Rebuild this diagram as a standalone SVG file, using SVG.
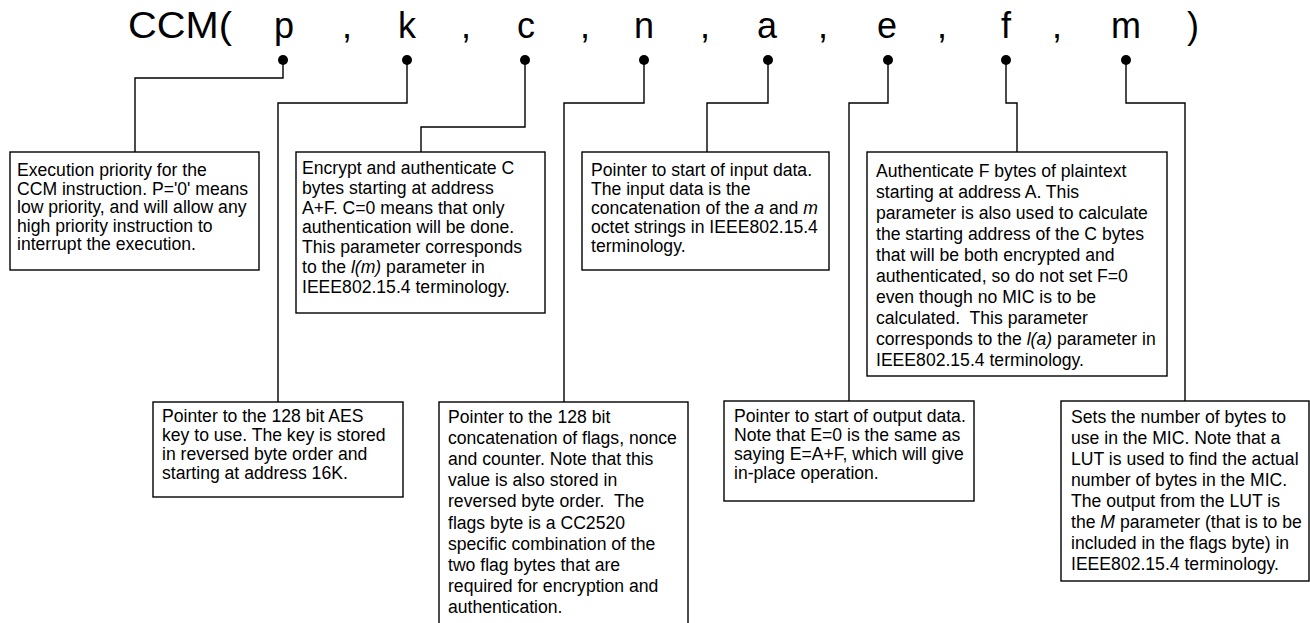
<svg xmlns="http://www.w3.org/2000/svg" width="1310" height="623" viewBox="0 0 1310 623">
<style>
.bg{fill:#ffffff}
.box{fill:#ffffff;stroke:#000000;stroke-width:1.4}
.wire{fill:none;stroke:#000000;stroke-width:1.4}
.dot{fill:#000000}
.t{font-family:"Liberation Sans",Arial,sans-serif;font-size:17.6px;fill:#000000;white-space:pre}
.title{font-family:"Liberation Sans",Arial,sans-serif;font-size:36px;fill:#000000}
.i{font-style:italic}
</style>
<rect class="bg" x="0" y="0" width="1310" height="623"/>
<g id="title">
<text class="title" x="128" y="38" textLength="104" lengthAdjust="spacingAndGlyphs">CCM(</text>
<text class="title" x="284" y="38" text-anchor="middle">p</text>
<text class="title" x="347" y="38" text-anchor="middle">,</text>
<text class="title" x="407" y="38" text-anchor="middle">k</text>
<text class="title" x="466" y="38" text-anchor="middle">,</text>
<text class="title" x="526" y="38" text-anchor="middle">c</text>
<text class="title" x="585" y="38" text-anchor="middle">,</text>
<text class="title" x="644" y="38" text-anchor="middle">n</text>
<text class="title" x="705" y="38" text-anchor="middle">,</text>
<text class="title" x="767" y="38" text-anchor="middle">a</text>
<text class="title" x="823" y="38" text-anchor="middle">,</text>
<text class="title" x="887" y="38" text-anchor="middle">e</text>
<text class="title" x="942" y="38" text-anchor="middle">,</text>
<text class="title" x="1006" y="38" text-anchor="middle">f</text>
<text class="title" x="1057" y="38" text-anchor="middle">,</text>
<text class="title" x="1126" y="38" text-anchor="middle">m</text>
<text class="title" x="1193" y="38" text-anchor="middle">)</text>
</g>
<g id="connectors">
<polyline class="wire" points="283,60 283,78 135,78 135,152"/>
<polyline class="wire" points="407,60 407,103 278,103 278,402"/>
<polyline class="wire" points="525,60 525,127 421,127 421,152"/>
<polyline class="wire" points="644,60 644,103 564,103 564,402"/>
<polyline class="wire" points="768,60 768,103 707,103 707,152"/>
<polyline class="wire" points="888,60 888,103 849,103 849,402"/>
<polyline class="wire" points="1006,60 1006,103 1017,103 1017,152"/>
<polyline class="wire" points="1126,60 1126,103 1185,103 1185,402"/>
<circle class="dot" cx="283" cy="60" r="5"/>
<circle class="dot" cx="407" cy="60" r="5"/>
<circle class="dot" cx="525" cy="60" r="5"/>
<circle class="dot" cx="644" cy="60" r="5"/>
<circle class="dot" cx="768" cy="60" r="5"/>
<circle class="dot" cx="888" cy="60" r="5"/>
<circle class="dot" cx="1006" cy="60" r="5"/>
<circle class="dot" cx="1126" cy="60" r="5"/>
</g>
<g id="node-p">
<rect class="box" x="10" y="152" width="249" height="118"/>
<text class="t" x="17" y="176">Execution priority for the</text>
<text class="t" x="17" y="194.5">CCM instruction. P='0' means</text>
<text class="t" x="17" y="213">low priority, and will allow any</text>
<text class="t" x="17" y="231.5">high priority instruction to</text>
<text class="t" x="17" y="250">interrupt the execution.</text>
</g>
<g id="node-c">
<rect class="box" x="296" y="152" width="249" height="161"/>
<text class="t" x="302" y="174">Encrypt and authenticate C</text>
<text class="t" x="302" y="193.8">bytes starting at address</text>
<text class="t" x="302" y="213.6">A+F. C=0 means that only</text>
<text class="t" x="302" y="233.4">authentication will be done.</text>
<text class="t" x="302" y="253.2">This parameter corresponds</text>
<text class="t" x="302" y="273">to the <tspan class="i">l(m)</tspan> parameter in</text>
<text class="t" x="302" y="292.8">IEEE802.15.4 terminology.</text>
</g>
<g id="node-a">
<rect class="box" x="582" y="152" width="247" height="118"/>
<text class="t" x="591" y="176">Pointer to start of input data.</text>
<text class="t" x="591" y="194.9">The input data is the</text>
<text class="t" x="591" y="213.8">concatenation of the <tspan class="i">a</tspan> and <tspan class="i">m</tspan></text>
<text class="t" x="591" y="232.7">octet strings in IEEE802.15.4</text>
<text class="t" x="591" y="251.6">terminology.</text>
</g>
<g id="node-f">
<rect class="box" x="867" y="152" width="300" height="224"/>
<text class="t" x="876" y="176.5">Authenticate F bytes of plaintext</text>
<text class="t" x="876" y="197.5">starting at address A. This</text>
<text class="t" x="876" y="218.5">parameter is also used to calculate</text>
<text class="t" x="876" y="239.5">the starting address of the C bytes</text>
<text class="t" x="876" y="260.5">that will be both encrypted and</text>
<text class="t" x="876" y="281.5">authenticated, so do not set F=0</text>
<text class="t" x="876" y="302.5">even though no MIC is to be</text>
<text class="t" x="876" y="323.5">calculated.  This parameter</text>
<text class="t" x="876" y="344.5">corresponds to the <tspan class="i">l(a)</tspan> parameter in</text>
<text class="t" x="876" y="365.5">IEEE802.15.4 terminology.</text>
</g>
<g id="node-k">
<rect class="box" x="153" y="402" width="250" height="95"/>
<text class="t" x="162" y="422">Pointer to the 128 bit AES</text>
<text class="t" x="162" y="441">key to use. The key is stored</text>
<text class="t" x="162" y="460">in reversed byte order and</text>
<text class="t" x="162" y="479">starting at address 16K.</text>
</g>
<g id="node-n">
<rect class="box" x="439" y="402" width="249" height="240"/>
<text class="t" x="448" y="422.5">Pointer to the 128 bit</text>
<text class="t" x="448" y="443.7">concatenation of flags, nonce</text>
<text class="t" x="448" y="464.9">and counter. Note that this</text>
<text class="t" x="448" y="486.1">value is also stored in</text>
<text class="t" x="448" y="507.3">reversed byte order.  The</text>
<text class="t" x="448" y="528.5">flags byte is a CC2520</text>
<text class="t" x="448" y="549.7">specific combination of the</text>
<text class="t" x="448" y="570.9">two flag bytes that are</text>
<text class="t" x="448" y="592.1">required for encryption and</text>
<text class="t" x="448" y="613.3">authentication.</text>
</g>
<g id="node-e">
<rect class="box" x="724" y="401" width="250" height="100"/>
<text class="t" x="734" y="422">Pointer to start of output data.</text>
<text class="t" x="734" y="440.9">Note that E=0 is the same as</text>
<text class="t" x="734" y="459.8">saying E=A+F, which will give</text>
<text class="t" x="734" y="478.7">in-place operation.</text>
</g>
<g id="node-m">
<rect class="box" x="1061" y="401" width="248" height="180"/>
<text class="t" x="1071" y="423">Sets the number of bytes to</text>
<text class="t" x="1071" y="444">use in the MIC. Note that a</text>
<text class="t" x="1071" y="465">LUT is used to find the actual</text>
<text class="t" x="1071" y="486">number of bytes in the MIC.</text>
<text class="t" x="1071" y="507">The output from the LUT is</text>
<text class="t" x="1071" y="528">the <tspan class="i">M</tspan> parameter (that is to be</text>
<text class="t" x="1071" y="549">included in the flags byte) in</text>
<text class="t" x="1071" y="570">IEEE802.15.4 terminology.</text>
</g>
</svg>
